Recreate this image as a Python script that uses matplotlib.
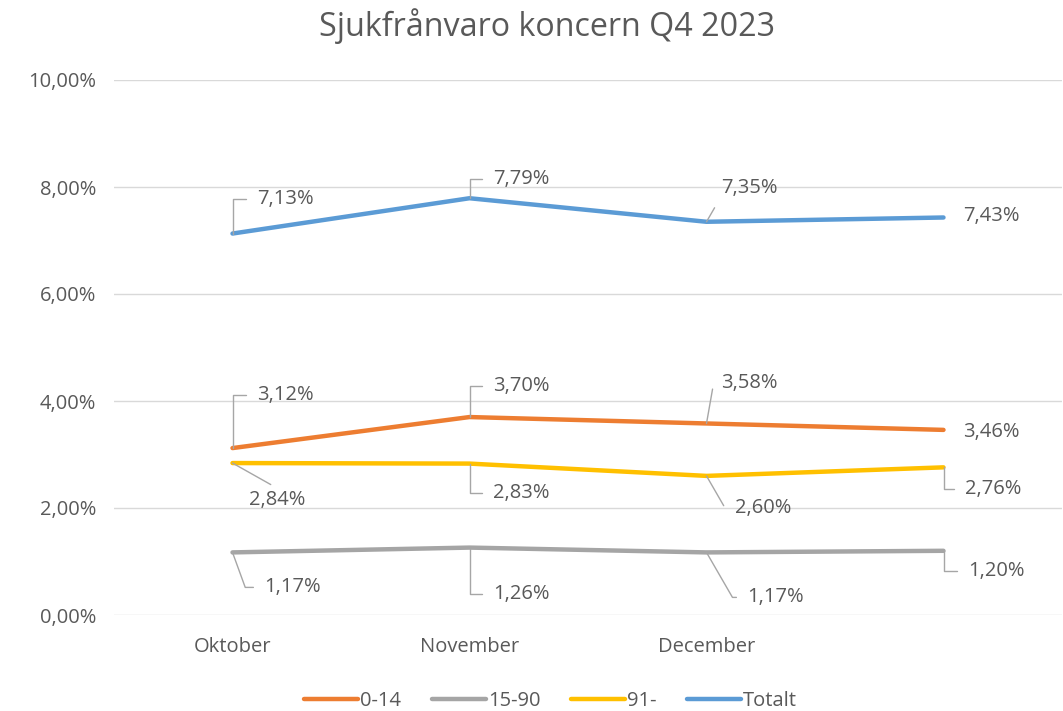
import matplotlib
matplotlib.use("Agg")
import matplotlib.pyplot as plt
from matplotlib.ticker import FuncFormatter

categories = ["Oktober", "November", "December", ""]
series_names = ["0-14", "15-90", "91-", "Totalt"]
v_0_14 = [3.12, 3.70, 3.58, 3.46]
v_15_90 = [1.17, 1.26, 1.17, 1.20]
v_91 = [2.84, 2.83, 2.60, 2.76]
v_total = [7.13, 7.79, 7.35, 7.43]
values = [v_0_14, v_15_90, v_91, v_total]
colors = ["#ED7D31", "#A5A5A5", "#FFC000", "#5B9BD5"]

# label offsets in pixels (dx, dy) and leader angle at point (None = no leader)
label_style = {
    "Totalt": [((25, 35), 90), ((24, 19), 90), ((15, 34), 60), ((20, 1), None)],
    "0-14":   [((25, 53), 90), ((24, 31), 90), ((15, 40), 80), ((20, -2), None)],
    "91-":    [((17, -37), "straight"), ((24, -29), -90), ((28, -32), -60), ((22, -22), -90)],
    "15-90":  [((32, -35), -70), ((24, -46), -90), ((41, -45), -60), ((25, -20), -90)],
}

plt.rcParams["font.family"] = ["Open Sans", "DejaVu Sans"]
txt = "#595959"
fs = 14.5

fig = plt.figure(figsize=(10.63, 7.11), dpi=100)
ax = fig.add_axes([114 / 1063, 96 / 711, (1062 - 114) / 1063, (615 - 80) / 711])

x = list(range(len(categories)))
for name, vals, c in zip(series_names, values, colors):
    ax.plot(x, vals, color=c, lw=3.2, label=name, solid_capstyle="round", zorder=3)

for name, vals in zip(series_names, values):
    for i, v in enumerate(vals):
        (dx, dy), ang = label_style[name][i]
        s = f"{v:.2f}%".replace(".", ",")
        kw = dict(xytext=(dx, dy), textcoords="offset pixels", ha="left", va="center",
                  fontsize=fs, color=txt, zorder=4)
        if ang is None:
            ax.annotate(s, (i, v), **kw)
        elif ang == "straight":
            ax.annotate(s, (i, v), **kw,
                        arrowprops=dict(arrowstyle="-", color="#A6A6A6", lw=1,
                                        shrinkA=4, shrinkB=0, relpos=(0.55, 1.0),
                                        connectionstyle="arc3"))
        else:
            ax.annotate(s, (i, v), **kw,
                        arrowprops=dict(arrowstyle="-", color="#A6A6A6", lw=1,
                                        shrinkA=6, shrinkB=0,
                                        relpos=(0, 0.5),
                                        connectionstyle=f"angle,angleA=0,angleB={ang},rad=0"))

ax.set_xlim(-0.5, len(categories) - 0.5)
ax.set_ylim(0, 10)
ax.set_yticks([0, 2, 4, 6, 8, 10])
ax.yaxis.set_major_formatter(FuncFormatter(lambda y, p: f"{y:.2f}%".replace(".", ",")))
ax.set_xticks(x)
ax.set_xticklabels(categories)
ax.tick_params(length=0, labelsize=fs, labelcolor=txt)
ax.tick_params(axis="y", pad=13)
ax.tick_params(axis="x", pad=16)
ax.grid(axis="y", color="#D9D9D9", lw=1)
ax.set_axisbelow(True)
for s in ax.spines.values():
    s.set_visible(False)

fig.suptitle("Sjukfrånvaro koncern Q4 2023", fontsize=23.2, color=txt, x=0.515, y=0.988)

leg = fig.legend(loc="lower center", bbox_to_anchor=(0.518, -0.025), ncol=4, frameon=False,
                 fontsize=fs, handlelength=2.7, handletextpad=0.1, columnspacing=1.5)
for t in leg.get_texts():
    t.set_color(txt)

fig.savefig("out.png", dpi=100)
